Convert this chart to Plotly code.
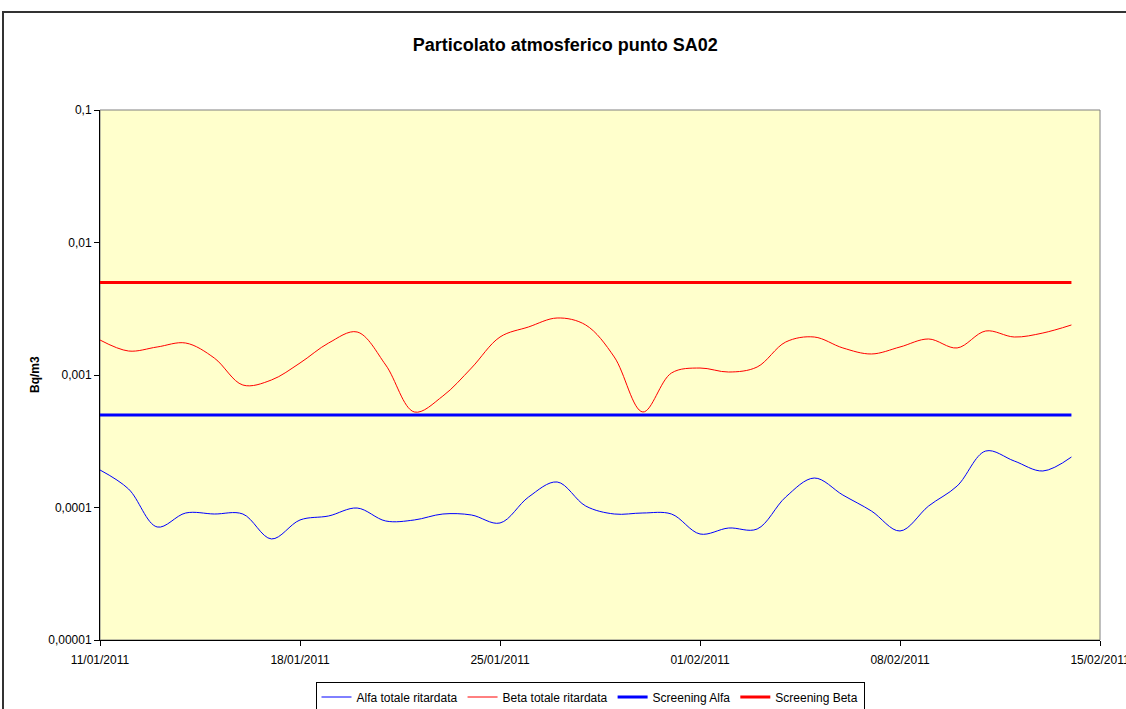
import plotly.graph_objects as go
import pandas as pd

dates = pd.date_range("2011-01-11", "2011-02-14", freq="D")

alfa = [1.919e-4, 1.379e-4, 7.13e-5, 9.09e-5, 8.93e-5, 8.93e-5, 5.79e-5, 8.05e-5, 8.63e-5, 9.91e-5,
        7.91e-5, 8.05e-5, 8.93e-5, 8.78e-5, 7.64e-5, 1.200e-4, 1.558e-4, 1.026e-4, 8.93e-5, 9.09e-5,
        8.93e-5, 6.31e-5, 7.00e-5, 6.88e-5, 1.200e-4, 1.669e-4, 1.242e-4, 9.41e-5, 6.65e-5, 1.026e-4,
        1.453e-4, 2.669e-4, 2.243e-4, 1.886e-4, 2.404e-4]

beta = [0.001837, 0.001517, 0.001627, 0.001743, 0.001343, 0.000840, 0.000917, 0.001232, 0.001743, 0.002112,
        0.001190, 0.000526, 0.000694, 0.001129, 0.001935, 0.002305, 0.002693, 0.002385, 0.001367, 0.000526,
        0.001035, 0.001129, 0.001053, 0.001149, 0.001774, 0.001935, 0.001600, 0.001441, 0.001627, 0.001870,
        0.001600, 0.002149, 0.001935, 0.002075, 0.002385]

screening_alfa = [0.0005] * len(dates)
screening_beta = [0.005] * len(dates)

y_tickvals = [0.1, 0.01, 0.001, 0.0001, 0.00001]
y_ticktext = ["0,1", "0,01", "0,001", "0,0001", "0,00001"]
x_tickvals = ["2011-01-11", "2011-01-18", "2011-01-25", "2011-02-01", "2011-02-08", "2011-02-15"]
x_ticktext = ["11/01/2011", "18/01/2011", "25/01/2011", "01/02/2011", "08/02/2011", "15/02/2011"]

FONT = "Liberation Sans, Arial, sans-serif"

fig = go.Figure()
fig.add_trace(go.Scatter(x=dates, y=alfa, mode="lines", name="Alfa totale ritardata",
                         line=dict(color="#0000FF", width=1, shape="spline", smoothing=1.0)))
fig.add_trace(go.Scatter(x=dates, y=beta, mode="lines", name="Beta totale ritardata",
                         line=dict(color="#FF0000", width=1, shape="spline", smoothing=1.0)))
fig.add_trace(go.Scatter(x=dates, y=screening_alfa, mode="lines", name="Screening Alfa",
                         line=dict(color="#0000FF", width=3)))
fig.add_trace(go.Scatter(x=dates, y=screening_beta, mode="lines", name="Screening Beta",
                         line=dict(color="#FF0000", width=3)))

fig.update_layout(
    width=1126, height=709,
    margin=dict(l=100, r=26, t=110, b=69, autoexpand=False),
    paper_bgcolor="white",
    plot_bgcolor="#FFFFCC",
    font=dict(family=FONT, size=12, color="black"),
    title=dict(text="<b>Particolato atmosferico punto SA02</b>", x=0.502, xanchor="center",
               y=1 - 45 / 709, yanchor="middle", font=dict(family=FONT, size=18, color="black")),
    showlegend=True,
    legend=dict(orientation="h", x=0.49, xanchor="center", y=(640 - 697) / 530, yanchor="middle",
                bordercolor="black", borderwidth=1, bgcolor="white",
                font=dict(family=FONT, size=12, color="black"), itemwidth=30,
                tracegroupgap=0),
)

fig.update_xaxes(
    type="date",
    range=["2011-01-11", "2011-02-15"],
    tickvals=x_tickvals, ticktext=x_ticktext,
    showgrid=False, zeroline=False,
    showline=True, linecolor="black", linewidth=1,
    ticks="outside", ticklen=5, tickcolor="black",
    tickfont=dict(family=FONT, size=12, color="black"),
    ticklabeloverflow="allow", automargin=False, ticklabelstandoff=4,
    mirror=False,
)
fig.update_yaxes(
    type="log",
    range=[-5, -1],
    tickvals=y_tickvals, ticktext=y_ticktext,
    showgrid=False, zeroline=False,
    showline=True, linecolor="black", linewidth=1,
    ticks="outside", ticklen=5, tickcolor="black",
    tickfont=dict(family=FONT, size=12, color="black"),
    automargin=False,
)

# gray plot-area border (top/right)
fig.add_shape(type="rect", xref="paper", yref="paper", x0=0, y0=0, x1=1, y1=1,
              line=dict(color="#808080", width=1), layer="below")
# chart-area frame
fig.add_shape(type="rect", xref="paper", yref="paper",
              x0=(3 - 100) / 1000, y0=(640 - 760) / 530, x1=(1180 - 100) / 1000, y1=(640 - 12) / 530,
              line=dict(color="#333333", width=2), fillcolor="rgba(0,0,0,0)", layer="above")

fig.add_annotation(text="<b>Bq/m3</b>", xref="paper", yref="paper",
                   x=(35 - 100) / 1000, y=(640 - 375) / 530, textangle=-90,
                   showarrow=False, font=dict(family=FONT, size=12, color="black"),
                   xanchor="center", yanchor="middle")

fig.write_html("out.html", config={"displayModeBar": False},
               post_script="document.body.style.margin='0';document.body.style.overflow='hidden';")
